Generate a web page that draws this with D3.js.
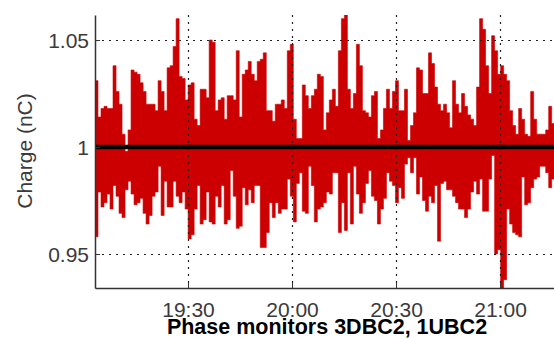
<!DOCTYPE html>
<html>
<head>
<meta charset="UTF-8">
<title>Charge</title>
<script src="https://d3js.org/d3.v7.min.js"></script>
<style>
  body { margin: 0; background: #fff; }
  svg { display: block; }
  .tick text { font-family: "Liberation Sans", Arial, sans-serif; }
</style>
</head>
<body>
<div id="chart"></div>
<script>
// sample start time and spacing (one sample every 52 s)
var startTime = "19:03:10";
var stepSec = 52;

// upper and lower envelope of the charge signal (nC), one pair per sample
var hi = [1.031,1.014,1.018,1.019,1.018,1.018,1.038,1.026,1.020,1.006,
          0.998,1.008,1.036,1.035,1.034,1.030,1.026,1.020,1.020,1.020,
          1.017,1.031,1.026,1.017,1.037,1.038,1.047,1.060,1.033,1.032,
          1.022,1.029,1.030,1.013,1.010,1.027,1.027,1.023,1.050,1.049,
          1.017,1.022,1.023,1.013,1.024,1.024,1.022,1.045,1.014,1.034,
          1.036,1.040,1.034,1.031,1.040,1.041,1.044,1.017,1.017,1.012,
          1.020,1.020,1.022,1.018,1.045,1.048,1.013,1.004,1.004,1.029,
          1.024,1.018,1.024,1.027,1.034,1.033,1.008,1.016,1.022,1.027,
          1.019,1.045,1.060,1.062,1.027,1.018,1.025,1.048,1.038,1.017,
          1.016,1.014,1.024,1.026,1.004,1.008,1.018,1.027,1.018,1.026,
          1.031,1.017,1.017,1.027,1.003,1.010,1.016,1.037,1.036,1.025,
          1.025,1.044,1.039,1.028,1.020,1.017,1.020,1.016,1.009,1.031,
          1.020,1.016,1.025,1.019,1.015,1.013,1.010,1.028,1.060,1.055,
          1.038,1.025,1.052,1.045,1.034,1.038,1.034,1.031,1.017,1.010,
          1.006,1.018,1.013,1.006,1.005,1.026,1.013,1.006,1.006,1.006,
          1.008,1.019,1.011];
var lo = [0.958,0.979,0.972,0.974,0.978,0.971,0.982,0.977,0.969,0.967,
          0.980,0.984,0.978,0.973,0.974,0.976,0.969,0.964,0.968,0.977,
          0.979,0.991,0.968,0.984,0.972,0.972,0.984,0.977,0.974,0.979,
          0.971,0.957,0.959,0.971,0.982,0.964,0.966,0.979,0.965,0.964,
          0.977,0.972,0.982,0.964,0.966,0.989,0.977,0.962,0.963,0.981,
          0.973,0.980,0.974,0.982,0.982,0.953,0.953,0.960,0.974,0.967,
          0.974,0.969,0.971,0.971,0.985,0.977,0.965,0.983,0.988,0.970,
          0.969,0.991,0.982,0.965,0.971,0.972,0.974,0.979,0.978,0.988,
          0.988,0.960,0.974,0.961,0.988,0.964,0.991,0.978,0.969,0.974,
          0.983,0.989,0.977,0.975,0.964,0.971,0.976,0.988,0.984,0.982,
          0.974,0.981,0.976,0.992,0.995,0.988,0.995,0.978,0.986,0.975,
          0.970,0.977,0.974,0.982,0.956,0.983,0.984,0.980,0.980,0.977,
          0.974,0.971,0.971,0.967,0.971,0.979,0.984,0.978,0.985,0.970,
          0.970,0.985,0.996,0.950,0.952,0.930,0.938,0.971,0.964,0.960,
          0.959,0.958,0.986,0.973,0.974,0.981,0.985,0.986,0.991,0.991,
          0.988,0.981,0.985];

// nominal charge reference line
var nominal = 1;

// axis settings
var yTicks = [0.95, 1, 1.05];
var yLabels = ["0.95", "1", "1.05"];
var xTicks = ["19:30", "20:00", "20:30", "21:00"];
var xDomain = ["19:03:10", "21:28:50"];
var yDomain = [0.9341, 1.0617];

var W = 554, H = 339;
var margin = {left: 95, top: 15, bottom: 51};
var plotRight = 600;   // axes run past the picture edge

var parse = d3.timeParse("%H:%M:%S");
var parseHM = d3.timeParse("%H:%M");
var t0 = parse(startTime);

var data = hi.map(function(h, i) {
    return {t: new Date(t0.getTime() + i * stepSec * 1000), hi: h, lo: lo[i]};
});
// close the last step
var last = data[data.length - 1];
data.push({t: new Date(last.t.getTime() + stepSec * 1000), hi: last.hi, lo: last.lo});

var x = d3.scaleTime()
    .domain(xDomain.map(function(s) { return parse(s); }))
    .range([margin.left, plotRight]);
var y = d3.scaleLinear()
    .domain(yDomain)
    .range([H - margin.bottom, margin.top]);

var svg = d3.select("#chart").append("svg")
    .attr("width", W)
    .attr("height", H);

svg.append("clipPath").attr("id", "plotClip")
  .append("rect")
    .attr("x", margin.left).attr("y", margin.top)
    .attr("width", plotRight - margin.left)
    .attr("height", H - margin.bottom - margin.top);

// the signal band
var area = d3.area()
    .x(function(d) { return x(d.t); })
    .y0(function(d) { return y(d.lo); })
    .y1(function(d) { return y(d.hi); })
    .curve(d3.curveStepAfter);

svg.append("path")
    .datum(data)
    .attr("clip-path", "url(#plotClip)")
    .attr("d", area)
    .attr("fill", "#cc0000")
    .attr("stroke", "#cc0000")
    .attr("stroke-width", 0.6);

// dotted grid on top of the data
var xTickDates = xTicks.map(function(s) { return parseHM(s); });

svg.append("g")
    .selectAll("line")
    .data(yTicks.filter(function(v) { return v !== nominal; }))
    .enter().append("line")
      .attr("x1", margin.left).attr("x2", plotRight)
      .attr("y1", function(d) { return Math.round(y(d)) + 0.5; })
      .attr("y2", function(d) { return Math.round(y(d)) + 0.5; })
      .attr("stroke", "#222")
      .attr("stroke-width", 1.2)
      .attr("stroke-dasharray", "2,5");

svg.append("g")
    .selectAll("line")
    .data(xTickDates)
    .enter().append("line")
      .attr("x1", function(d) { return Math.round(x(d)) + 0.5; })
      .attr("x2", function(d) { return Math.round(x(d)) + 0.5; })
      .attr("y1", margin.top).attr("y2", H - margin.bottom)
      .attr("stroke", "#222")
      .attr("stroke-width", 1.2)
      .attr("stroke-dasharray", "2,5");

// black nominal line
svg.append("line")
    .attr("x1", margin.left).attr("x2", plotRight)
    .attr("y1", y(nominal)).attr("y2", y(nominal))
    .attr("stroke", "#000")
    .attr("stroke-width", 4.5);

// axes
var yAxis = d3.axisLeft(y)
    .tickValues(yTicks)
    .tickFormat(function(d, i) { return yLabels[i]; })
    .tickSizeInner(-5)
    .tickSizeOuter(0)
    .tickPadding(6);

var xAxis = d3.axisBottom(x)
    .tickValues(xTickDates)
    .tickFormat(function(d, i) { return xTicks[i]; })
    .tickSizeInner(-5)
    .tickSizeOuter(0)
    .tickPadding(14);

var gy = svg.append("g")
    .attr("transform", "translate(" + margin.left + ",0)")
    .call(yAxis);
var gx = svg.append("g")
    .attr("transform", "translate(0," + (H - margin.bottom) + ")")
    .call(xAxis);

[gx, gy].forEach(function(g) {
    g.select(".domain").attr("stroke", "#333").attr("stroke-width", 1.5);
    g.selectAll(".tick line").attr("stroke", "#333");
    g.selectAll(".tick text")
        .attr("fill", "#3a3a3a")
        .attr("font-size", "21px");
});
gy.selectAll(".tick text").attr("dy", "0.36em");

// axis label and title
svg.append("text")
    .attr("transform", "translate(32,151) rotate(-90)")
    .attr("text-anchor", "middle")
    .attr("font-family", "Liberation Sans, Arial, sans-serif")
    .attr("font-size", "21px")
    .attr("fill", "#3a3a3a")
    .text("Charge (nC)");

svg.append("text")
    .attr("x", 327)
    .attr("y", 334)
    .attr("text-anchor", "middle")
    .attr("font-family", "Liberation Sans, Arial, sans-serif")
    .attr("font-size", "21.5px")
    .attr("font-weight", "bold")
    .attr("fill", "#000")
    .text("Phase monitors 3DBC2, 1UBC2");
</script>
</body>
</html>
